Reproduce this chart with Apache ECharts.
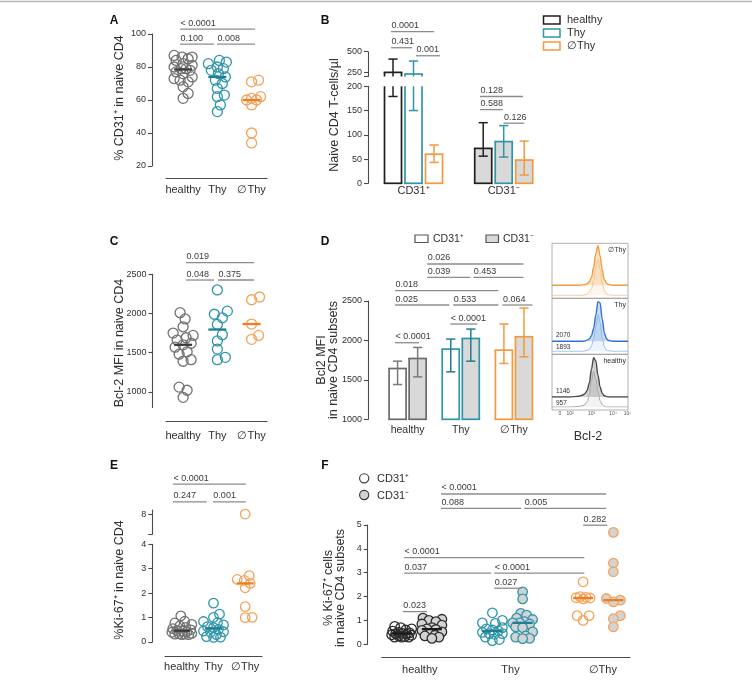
<!DOCTYPE html>
<html><head><meta charset="utf-8">
<script src="https://cdn.jsdelivr.net/npm/echarts@6.0.0/dist/echarts.min.js"></script>
<style>html,body{margin:0;padding:0;background:#fff;}#chart{width:752px;height:691px;}</style>
</head><body><div id="chart"></div>
<script>
// ---------------- data ----------------
const groupLabels = ['healthy', 'Thy', '∅Thy'];
const subsetLabels = ['CD31⁺', 'CD31⁻'];

// A: % CD31+ in naive CD4
const aHealthy = [87, 86, 86, 85, 84, 82, 81, 80, 79, 79, 78, 77, 76, 74, 73, 72, 71, 68, 64, 61];
const aThy = [84, 83, 82, 80, 79, 78, 76, 74, 72, 70, 67, 63, 62, 57, 53];
const aNoThy = [72, 71, 62, 61, 60, 60, 57, 40, 34];
const sigA = [[-0.09, 2.1, 103, '< 0.0001'], [-0.09, 0.9, 93.9, '0.100'], [0.99, 2.1, 93.9, '0.008']];

// B: naive CD4 T-cells/µl (bar = centre, whiskers low/high)
const bPosMean = [250, 230, 60];
const bPosLow = [179, 150, 43];
const bPosHigh = [411, 387, 79];
const bNegMean = [72, 86, 48];
const bNegLow = [56, 54, 17];
const bNegHigh = [125, 119, 87];
const sigBUpper = [[-0.1, 2.0, 742, '0.0001'], [-0.1, 0.94, 548, '0.431'], [1.12, 2.29, 451, '0.001']];
const sigBLower = [[4.24, 6.34, 179, '0.128'], [4.24, 5.35, 152, '0.588'], [5.39, 6.4, 124, '0.126']];

// C: Bcl-2 MFI
const cHealthy = [2010, 1930, 1830, 1750, 1720, 1690, 1660, 1620, 1600, 1570, 1510, 1480, 1410, 1390, 1060, 1020, 930];
const cThy = [2300, 2030, 1990, 1945, 1860, 1730, 1650, 1545, 1440, 1410];
const cNoThy = [2210, 2175, 1865, 1720, 1670];
const sigC = [[0.085, 2.07, 2648, '0.019'], [0.085, 0.9, 2427, '0.048'], [1.02, 2.07, 2427, '0.375']];

// D: Bcl2 MFI in naive CD4 subsets
const dPosMean = [1644, 1890, 1877];
const dPosLow = [1441, 1602, 1708];
const dPosHigh = [1737, 2017, 2208];
const dNegMean = [1771, 2025, 2047];
const dNegLow = [1538, 1737, 1792];
const dNegHigh = [1911, 2144, 2411];
const sigD = [[1.475, 6.275, 2969, '0.026'], [1.475, 3.625, 2800, '0.039'], [3.775, 6.275, 2800, '0.453'],
  [-0.125, 5.025, 2631, '0.018'], [-0.125, 2.575, 2449, '0.025'], [2.775, 5.025, 2449, '0.533'],
  [5.225, 6.725, 2449, '0.064'], [2.625, 3.975, 2208, '< 0.0001'], [-0.125, 1.075, 1971, '< 0.0001']];

// D inset: Bcl-2 histograms (log10 intensity, relative counts)
const histX = [1.16, 2.0, 2.4, 2.6, 2.7, 2.8, 2.9, 3.0, 3.1, 3.2, 3.3, 3.4, 3.5, 3.6, 3.7, 3.8, 4.0, 4.3, 4.7];
const hNoThyNeg = [0, 0, 0, 1, 2, 4, 9, 20, 45, 80, 100, 75, 38, 14, 5, 2, 0, 0, 0];
const hNoThyPos = [0, 0, 0, 0, 1, 3, 7, 15, 33, 62, 80, 58, 28, 10, 3, 1, 0, 0, 0];
const hThyNeg = [0, 0, 0, 0, 1, 3, 6, 14, 32, 65, 98, 95, 55, 20, 6, 2, 0, 0, 0];
const hThyPos = [0, 0, 0, 0, 1, 2, 5, 12, 28, 55, 80, 62, 30, 10, 3, 1, 0, 0, 0];
const hHealthyNeg = [0, 0, 2, 5, 9, 16, 35, 70, 98, 90, 55, 25, 9, 3, 1, 0, 0, 0, 0];
const hHealthyPos = [0, 0, 1, 3, 6, 12, 28, 58, 78, 62, 35, 14, 5, 2, 0, 0, 0, 0, 0];
const histMfi = [['', ''], ['2070', '1893'], ['1146', '957']];
const histTicks = [1.535, 2, 3, 4, 4.68];
const histTickLabels = ['0', '10²', '10³', '10⁴', '10⁵'];

// E: %Ki-67+ in naive CD4
const eHealthy = [1.07, 0.85, 0.78, 0.72, 0.66, 0.6, 0.55, 0.5, 0.47, 0.45, 0.42, 0.4, 0.35, 0.33, 0.32, 0.32, 0.3, 0.3];
const eThy = [1.59, 1.14, 1.01, 0.84, 0.79, 0.7, 0.63, 0.59, 0.52, 0.45, 0.42, 0.4, 0.3, 0.22, 0.2, 0.19];
const eNoThy = [8.0, 2.72, 2.56, 2.52, 2.4, 2.22, 1.45, 1.01, 1.0];
const sigE = [[-0.28, 2.02, 6.46, '< 0.0001'], [-0.28, 0.79, 5.74, '0.247'], [0.98, 2.02, 5.74, '0.001']];

// F: % Ki-67+ cells in naive CD4 subsets
const fHealthyPos = [0.75, 0.7, 0.65, 0.6, 0.55, 0.5, 0.48, 0.46, 0.45, 0.43, 0.4, 0.38, 0.35, 0.32, 0.3, 0.3, 0.3];
const fHealthyNeg = [1.1, 1.05, 1.0, 0.95, 0.85, 0.8, 0.7, 0.65, 0.62, 0.58, 0.52, 0.45, 0.38, 0.35, 0.3, 0.25];
const fThyPos = [1.32, 1.0, 0.9, 0.88, 0.7, 0.65, 0.6, 0.56, 0.5, 0.45, 0.45, 0.42, 0.3, 0.2, 0.15];
const fThyNeg = [2.2, 1.9, 1.3, 1.22, 1.1, 1.04, 0.95, 0.9, 0.9, 0.85, 0.73, 0.7, 0.52, 0.35, 0.3, 0.25, 0.24];
const fNoThyPos = [2.62, 2.0, 1.97, 1.95, 1.94, 1.9, 1.2, 1.2, 1.0];
const fNoThyNeg = [4.69, 3.4, 3.04, 1.92, 1.85, 1.78, 1.2, 1.07, 0.73];
const sigF = [[1.3, 6.76, 6.3, '< 0.0001'], [1.3, 3.95, 5.7, '0.088'], [4.05, 6.76, 5.7, '0.005'],
  [6.0, 6.8, 4.99, '0.282'], [0.08, 6.04, 3.63, '< 0.0001'], [0.08, 2.96, 2.98, '0.037'],
  [3.06, 6.04, 2.98, '< 0.0001'], [3.06, 3.98, 2.35, '0.027'], [0.04, 0.84, 1.37, '0.023']];

// ---------------- style / layout ----------------
const FONT = '"Liberation Sans", Arial, Helvetica, sans-serif';
const TX = '#2e2e2e', AX = '#4a4a4a', SIG = '#8c8c8c';
const COL = {
  gray: '#727272', grayD: '#3d3d3d', black: '#1f1f1f', teal: '#2f95ab', tealD: '#1e7f94',
  org: '#f4a35a', orgD: '#ef7e22', orgBar: '#f29a3d', neg: '#d9d9d9', barGray: '#6a6a6a'
};
const L = {
  A:   {left: 166, top: 34, width: 101, height: 132, xmin: -0.5, xmax: 2.45, ymin: 20, ymax: 100},
  Blo: {left: 368, top: 86.3, width: 172, height: 97, xmin: -1.22, xmax: 7.17, ymin: 0, ymax: 200},
  Bup: {left: 368, top: 51.7, width: 172, height: 24.8, xmin: -1.22, xmax: 7.17, ymin: 200, ymax: 500},
  C:   {left: 166, top: 274.3, width: 101, height: 133.2, xmin: -0.5, xmax: 2.45, ymin: 800, ymax: 2500},
  D:   {left: 368, top: 301, width: 172, height: 118.3, xmin: -1.475, xmax: 7.1, ymin: 1000, ymax: 2500},
  Elo: {left: 165, top: 544.3, width: 97, height: 97.7, xmin: -0.53, xmax: 2.53, ymin: 0, ymax: 4},
  Eup: {left: 165, top: 510, width: 97, height: 24.3, xmin: -0.53, xmax: 2.53, ymin: 5.5, ymax: 8.5},
  F:   {left: 381.7, top: 525, width: 248.3, height: 119.3, xmin: -0.66, xmax: 7.55, ymin: 0, ymax: 5}
};
const B_GROUP_STEP = 4.4, D_GROUP_STEP = 2.65, F_GROUP_STEP = 3;
const HBOX = {left: 552, width: 76, tops: [243.3, 298.3, 354.3], bottoms: [298.3, 354.3, 410]};

// ---------------- helpers ----------------
const grids = [], xAxis = [], yAxis = [], series = [];
function addGrid(g, xo, yo) {
  const i = grids.length;
  grids.push({left: g.left, top: g.top, width: g.width, height: g.height});
  xAxis.push(Object.assign({type: 'value', gridIndex: i, min: g.xmin, max: g.xmax, splitLine: {show: false},
    axisLine: {show: false, onZero: false}, axisTick: {show: false}, axisLabel: {show: false}}, xo || {}));
  yAxis.push(Object.assign({type: 'value', gridIndex: i, min: g.ymin, max: g.ymax, splitLine: {show: false},
    axisLine: {show: false, onZero: false}, axisTick: {show: false}, axisLabel: {show: false}}, yo || {}));
  return i;
}
const axLine = {show: true, onZero: false, lineStyle: {color: AX, width: 1.1}};
function yVis(offset, extra, ticks, labels) {
  const o = {offset, axisLine: axLine, axisTick: {show: true, length: 4, lineStyle: {color: AX, width: 1.1}},
    axisLabel: {show: true, color: TX, fontSize: 9, fontFamily: FONT, margin: 6, formatter: v => String(v)}};
  if (ticks) o.axisTick.customValues = ticks;
  if (labels) o.axisLabel.customValues = labels;
  return Object.assign(o, extra || {});
}
function nearestIdx(vals, v) {
  let b = 0; vals.forEach((x, i) => { if (Math.abs(x - v) < Math.abs(vals[b] - v)) b = i; }); return b;
}
function xCat(vals, labels, offset, margin, size, showLine) {
  return {offset, axisLine: showLine ? axLine : {show: false, onZero: false}, axisTick: {show: false},
    axisLabel: {show: true, customValues: vals, formatter: v => labels[nearestIdx(vals, v)], color: TX,
      fontSize: size, fontFamily: FONT, margin}};
}
const medianOf = a => { const s = [...a].sort((x, y) => x - y), n = s.length; return n % 2 ? s[(n - 1) / 2] : (s[n / 2 - 1] + s[n / 2]) / 2; };

// beeswarm: spread points horizontally so circles do not pile up
function swarm(vals, cx, g, minDist, maxOff) {
  const ypx = g.height / (g.ymax - g.ymin), xpx = g.width / (g.xmax - g.xmin);
  const order = vals.map((v, i) => i).sort((a, b) => vals[a] - vals[b]);
  const placed = [], out = [];
  order.forEach(i => {
    const py = vals[i] * ypx;
    let best = 0, bestD = -1;
    for (let k = 0; ; k++) {
      const o = (k % 2 === 1 ? 1 : -1) * Math.ceil(k / 2);
      if (Math.abs(o) > maxOff) break;
      let d = Infinity;
      placed.forEach(p => { d = Math.min(d, Math.hypot(p[0] - o, p[1] - py)); });
      if (d >= minDist) { best = o; bestD = d; break; }
      if (d > bestD) { bestD = d; best = o; }
    }
    placed.push([best, py]);
    out[i] = [cx + best / xpx, vals[i]];
  });
  return out;
}
function scatter(gi, pts, stroke, fill, size) {
  return {type: 'scatter', xAxisIndex: gi, yAxisIndex: gi, data: pts, symbol: 'circle', symbolSize: size, silent: true, z: 3,
    itemStyle: {color: fill || 'rgba(255,255,255,0)', borderColor: stroke, borderWidth: 1.3, opacity: 1}};
}
function medians(gi, items, hw, lw) {
  return {type: 'custom', xAxisIndex: gi, yAxisIndex: gi, silent: true, z: 5, data: items.map(d => [d[0], d[1]]),
    encode: {x: 0, y: 1},
    renderItem(params, api) {
      const p = api.coord([api.value(0), api.value(1)]);
      return {type: 'line', shape: {x1: p[0] - hw, y1: p[1], x2: p[0] + hw, y2: p[1]},
        style: {stroke: items[params.dataIndex][2], lineWidth: lw}};
    }};
}
function brackets(gi, list) {
  return {type: 'custom', xAxisIndex: gi, yAxisIndex: gi, silent: true, z: 6, data: list.map(b => [b[0], b[2]]),
    encode: {x: 0, y: 1},
    renderItem(params, api) {
      const b = list[params.dataIndex];
      const p1 = api.coord([b[0], b[2]]), p2 = api.coord([b[1], b[2]]);
      return {type: 'group', children: [
        {type: 'line', shape: {x1: p1[0], y1: p1[1], x2: p2[0], y2: p2[1]}, style: {stroke: SIG, lineWidth: 1.3}},
        {type: 'text', x: p1[0] + 0.5, y: p1[1] - 1.5,
          style: {text: b[3], fill: '#3a3a3a', font: '9px ' + FONT, textAlign: 'left', textVerticalAlign: 'bottom'}}
      ]};
    }};
}
// items: [x, centre, low, high, colourIndex, fillIndex]
function bars(gi, g, items, barW, colors, fills, errColors, baseEdge) {
  return {type: 'custom', xAxisIndex: gi, yAxisIndex: gi, silent: true, z: 2, data: items, encode: {x: 0, y: 1},
    renderItem(params, api) {
      const x = api.value(0), v = api.value(1), lo = api.value(2), hi = api.value(3);
      const col = colors[api.value(4)], fill = fills[api.value(5)], ecol = errColors[api.value(4)];
      const y0 = g.ymin, y1 = g.ymax, hw = barW / 2, kids = [];
      if (v > y0) {
        const top = Math.min(v, y1);
        const pb = api.coord([x, y0]), pt = api.coord([x, top]);
        kids.push({type: 'rect', shape: {x: pb[0] - hw, y: pt[1], width: barW, height: pb[1] - pt[1]}, style: {fill: fill}});
        kids.push({type: 'line', shape: {x1: pb[0] - hw, y1: pb[1], x2: pb[0] - hw, y2: pt[1]}, style: {stroke: col, lineWidth: 1.7}});
        kids.push({type: 'line', shape: {x1: pb[0] + hw, y1: pb[1], x2: pb[0] + hw, y2: pt[1]}, style: {stroke: col, lineWidth: 1.7}});
        if (v <= y1) kids.push({type: 'line', shape: {x1: pb[0] - hw - 0.85, y1: pt[1], x2: pb[0] + hw + 0.85, y2: pt[1]}, style: {stroke: col, lineWidth: 1.7}});
        if (baseEdge) kids.push({type: 'line', shape: {x1: pb[0] - hw - 0.85, y1: pb[1], x2: pb[0] + hw + 0.85, y2: pb[1]}, style: {stroke: col, lineWidth: 1.7}});
      }
      const a = Math.max(lo, y0), b = Math.min(hi, y1);
      if (a < b) {
        const pa = api.coord([x, a]), pb2 = api.coord([x, b]), cw = barW * 0.27;
        kids.push({type: 'line', shape: {x1: pa[0], y1: pa[1], x2: pa[0], y2: pb2[1]}, style: {stroke: ecol, lineWidth: 1.5}});
        if (lo >= y0 && lo <= y1) kids.push({type: 'line', shape: {x1: pa[0] - cw, y1: pa[1], x2: pa[0] + cw, y2: pa[1]}, style: {stroke: ecol, lineWidth: 1.5}});
        if (hi >= y0 && hi <= y1) kids.push({type: 'line', shape: {x1: pb2[0] - cw, y1: pb2[1], x2: pb2[0] + cw, y2: pb2[1]}, style: {stroke: ecol, lineWidth: 1.5}});
      }
      return {type: 'group', children: kids};
    }};
}
function histLine(gi, ys, color, width, areaOp) {
  const s = {type: 'line', xAxisIndex: gi, yAxisIndex: gi, data: histX.map((x, i) => [x, ys[i]]), smooth: 0.35,
    smoothMonotone: 'x', symbol: 'none', silent: true, lineStyle: {color, width}, z: 2};
  if (areaOp) s.areaStyle = {color, opacity: areaOp};
  return s;
}

// ---------------- panel A ----------------
const gA = addGrid(L.A, xCat([0, 1, 2], groupLabels, 12, 6, 11, true), yVis(14, {interval: 20}));
const aGroups = [aHealthy, aThy, aNoThy], stroke3 = [COL.gray, COL.teal, COL.org], med3 = [COL.grayD, COL.tealD, COL.orgD];
aGroups.forEach((vals, i) => series.push(scatter(gA, swarm(vals, i, L.A, 7, 9.5), stroke3[i], null, 10)));
series.push(medians(gA, aGroups.map((v, i) => [i, medianOf(v), med3[i]]), 9, 2.3));
series.push(brackets(gA, sigA));

// ---------------- panel B ----------------
const gBlo = addGrid(L.Blo, xCat([1, B_GROUP_STEP + 1], subsetLabels, 0, 2, 11, false), yVis(0, {interval: 50}));
const gBup = addGrid(L.Bup, null, yVis(0, {}, [200, 250, 500], [250, 500]));
const bColors = [COL.black, COL.teal, COL.orgBar];
const bItems = [];
[[bPosMean, bPosLow, bPosHigh], [bNegMean, bNegLow, bNegHigh]].forEach((set, gIdx) => {
  set[0].forEach((m, k) => bItems.push([gIdx * B_GROUP_STEP + k, m, set[1][k], set[2][k], k, gIdx]));
});
series.push(bars(gBlo, L.Blo, bItems, 17, bColors, ['#ffffff', COL.neg], bColors, true));
series.push(bars(gBup, L.Bup, bItems, 17, bColors, ['#ffffff', COL.neg], bColors, false));
series.push(brackets(gBup, sigBUpper));
series.push(brackets(gBlo, sigBLower));

// ---------------- panel C ----------------
const gC = addGrid(L.C, xCat([0, 1, 2], groupLabels, 13.5, 9, 11, true),
  yVis(13.5, {}, [1000, 1500, 2000, 2500], [1000, 1500, 2000, 2500]));
const cGroups = [cHealthy, cThy, cNoThy];
cGroups.forEach((vals, i) => series.push(scatter(gC, swarm(vals, i, L.C, 8, 10), stroke3[i], null, 10)));
series.push(medians(gC, cGroups.map((v, i) => [i, medianOf(v), med3[i]]), 9, 2.3));
series.push(brackets(gC, sigC));

// ---------------- panel D ----------------
const gD = addGrid(L.D, xCat([0.5, D_GROUP_STEP + 0.5, 2 * D_GROUP_STEP + 0.5], groupLabels, 0, 5, 10.5, false),
  yVis(0, {interval: 500}));
const dColors = [COL.barGray, COL.teal, COL.orgBar];
const dErr = ['#7a7a7a', COL.tealD, COL.orgBar];
const dItems = [];
dPosMean.forEach((m, k) => {
  dItems.push([k * D_GROUP_STEP, m, dPosLow[k], dPosHigh[k], k, 0]);
  dItems.push([k * D_GROUP_STEP + 1, dNegMean[k], dNegLow[k], dNegHigh[k], k, 1]);
});
series.push(bars(gD, L.D, dItems, 17, dColors, ['#ffffff', COL.neg], dErr, true));
series.push(brackets(gD, sigD));

// ---------------- D inset: histograms ----------------
const hist = [[hNoThyNeg, hNoThyPos, '#f39a3c', '#f6c08c'], [hThyNeg, hThyPos, '#2f73d0', '#8fb6ea'], [hHealthyNeg, hHealthyPos, '#4a4a4a', '#a9a9a9']];
hist.forEach((h, k) => {
  const top = HBOX.tops[k], bot = HBOX.bottoms[k];
  const gl = addGrid({left: HBOX.left, top: top + 7, width: HBOX.width, height: bot - 3 - top - 7, xmin: 1.163, xmax: 4.698, ymin: 0, ymax: 100});
  series.push(histLine(gl, h[1], h[3], 1, 0.15));
  const gd = addGrid({left: HBOX.left, top: top + 2.5, width: HBOX.width, height: bot - 13 - top - 2.5, xmin: 1.163, xmax: 4.698, ymin: 0, ymax: 100});
  series.push(histLine(gd, h[0], h[2], 1.4, 0.25));
});
addGrid({left: HBOX.left, top: HBOX.tops[2], width: HBOX.width, height: HBOX.bottoms[2] - HBOX.tops[2], xmin: 1.163, xmax: 4.698, ymin: 0, ymax: 100},
  {axisLabel: {show: true, customValues: histTicks, formatter: v => histTickLabels[nearestIdx(histTicks, v)], color: '#555', fontSize: 5, fontFamily: FONT, margin: 1.5}});

// ---------------- panel E ----------------
const gElo = addGrid(L.Elo, xCat([0, 1, 2], groupLabels, 14, 5, 11, true), yVis(12.7, {interval: 1}));
const gEup = addGrid(L.Eup, null, yVis(12.7, {}, [5.5, 8], [8]));
const eGroups = [eHealthy, eThy, eNoThy];
eGroups.forEach((vals, i) => {
  const lo = vals.filter(v => v <= L.Elo.ymax), up = vals.filter(v => v > L.Elo.ymax);
  series.push(scatter(gElo, swarm(lo, i, L.Elo, 6.5, 10), stroke3[i], null, 9.5));
  if (up.length) series.push(scatter(gEup, up.map(v => [i, v]), stroke3[i], null, 9.5));
});
series.push(medians(gElo, eGroups.map((v, i) => [i, medianOf(v), med3[i]]), 8.5, 2.3));
series.push(brackets(gElo, sigE));

// ---------------- panel F ----------------
const gF = addGrid(L.F, xCat([0.6, F_GROUP_STEP + 0.6, 2 * F_GROUP_STEP + 0.65], groupLabels, 13, 7, 11, true), yVis(14, {interval: 1}));
const fSets = [[fHealthyPos, fHealthyNeg], [fThyPos, fThyNeg], [fNoThyPos, fNoThyNeg]];
const fStroke = ['#2a2a2a', COL.teal, COL.org];
const fMed = ['#1a1a1a', COL.tealD, COL.orgD];
const fMedItems = [];
fSets.forEach((pair, k) => {
  pair.forEach((vals, s) => {
    const cx = k * F_GROUP_STEP + s;
    series.push(scatter(gF, swarm(vals, cx, L.F, 7, 10), fStroke[k], s === 1 ? '#d3d3d3' : null, 9.5));
    fMedItems.push([cx, medianOf(vals), fMed[k]]);
  });
});
series.push(medians(gF, fMedItems, 10, 2.3));
series.push(brackets(gF, sigF));

// ---------------- graphics (titles, legends, frames) ----------------
function txt(x, y, text, size, extra, rot) {
  const o = {type: 'text', x, y, silent: true, z: 10,
    style: Object.assign({text, fill: TX, font: size + 'px ' + FONT, textAlign: 'center', textVerticalAlign: 'middle'}, extra || {})};
  if (rot) o.rotation = rot;
  return o;
}
const R = Math.PI / 2;
const bold = {font: 'bold 12px ' + FONT, fill: '#111'};
const gfx = [
  {type: 'line', shape: {x1: 0, y1: 1.5, x2: 752, y2: 1.5}, style: {stroke: '#b8b8b8', lineWidth: 1.5}, silent: true},
  txt(114, 21, 'A', 12, bold), txt(325, 21, 'B', 12, bold),
  txt(114, 242, 'C', 12, bold), txt(325, 242, 'D', 12, bold),
  txt(114, 466, 'E', 12, bold), txt(325, 466, 'F', 12, bold),
  txt(120, 98, '% CD31⁺ in naive CD4', 12.5, null, R),
  txt(335, 115, 'Naive CD4 T-cells/µl', 12.5, null, R),
  txt(120, 343, 'Bcl-2 MFI in naive CD4', 12.5, null, R),
  txt(322, 360, 'Bcl2 MFI', 12.5, null, R),
  txt(334, 360, 'in naive CD4 subsets', 12.5, null, R),
  txt(120, 580, '%Ki-67⁺ in naive CD4', 12.5, null, R),
  txt(329, 588, '% Ki-67⁺ cells', 12.5, null, R),
  txt(341, 588, 'in naive CD4 subsets', 12.5, null, R),
  // legend B
  {type: 'rect', shape: {x: 543.5, y: 16, width: 16.5, height: 8}, style: {fill: '#fff', stroke: COL.black, lineWidth: 1.5}, silent: true},
  {type: 'rect', shape: {x: 543.5, y: 29, width: 16.5, height: 8}, style: {fill: '#fff', stroke: COL.teal, lineWidth: 1.5}, silent: true},
  {type: 'rect', shape: {x: 543.5, y: 42, width: 16.5, height: 8}, style: {fill: '#fff', stroke: COL.orgBar, lineWidth: 1.5}, silent: true},
  txt(567, 20, 'healthy', 11, {textAlign: 'left'}),
  txt(567, 33, 'Thy', 11, {textAlign: 'left'}),
  txt(567, 46, '∅Thy', 11, {textAlign: 'left'}),
  // legend D
  {type: 'rect', shape: {x: 415, y: 235, width: 13, height: 7.5}, style: {fill: '#fff', stroke: '#555', lineWidth: 1.2}, silent: true},
  txt(433, 239, 'CD31⁺', 10.5, {textAlign: 'left'}),
  {type: 'rect', shape: {x: 486, y: 235, width: 12.5, height: 7.5}, style: {fill: COL.neg, stroke: '#555', lineWidth: 1.2}, silent: true},
  txt(503, 239, 'CD31⁻', 10.5, {textAlign: 'left'}),
  // legend F
  {type: 'circle', shape: {cx: 364.2, cy: 478.3, r: 4.6}, style: {fill: '#fff', stroke: '#333', lineWidth: 1.1}, silent: true},
  txt(377, 478.5, 'CD31⁺', 11, {textAlign: 'left'}),
  {type: 'circle', shape: {cx: 364.2, cy: 495, r: 4.6}, style: {fill: '#d3d3d3', stroke: '#333', lineWidth: 1.1}, silent: true},
  txt(377, 495.5, 'CD31⁻', 11, {textAlign: 'left'}),
  // histogram frame + labels
  txt(588, 437, 'Bcl-2', 12.5),
  txt(626, 250, '∅Thy', 7, {textAlign: 'right'}),
  txt(626, 305, 'Thy', 7, {textAlign: 'right'}),
  txt(626, 361, 'healthy', 7, {textAlign: 'right'})
];
HBOX.tops.forEach((t, k) => {
  gfx.push({type: 'rect', shape: {x: HBOX.left, y: t, width: HBOX.width, height: HBOX.bottoms[k] - t},
    style: {fill: 'none', stroke: '#9c9c9c', lineWidth: 0.8}, silent: true, z: 1});
  if (histMfi[k][0]) {
    gfx.push(txt(556, HBOX.bottoms[k] - 19, histMfi[k][0], 6.5, {textAlign: 'left'}));
    gfx.push(txt(556, HBOX.bottoms[k] - 7, histMfi[k][1], 6.5, {textAlign: 'left'}));
  }
});

const chart = echarts.init(document.getElementById('chart'), null, {renderer: 'canvas'});
chart.setOption({
  animation: false,
  backgroundColor: '#ffffff',
  grid: grids, xAxis, yAxis, series,
  graphic: {elements: gfx}
});
</script></body></html>
